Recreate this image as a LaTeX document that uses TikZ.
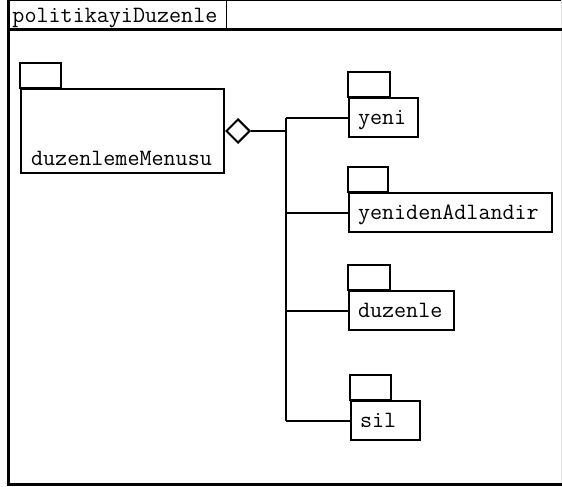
\documentclass[tikz,border=0pt]{standalone}
\usepackage{fontspec}
\usetikzlibrary{shapes.geometric}
\begin{document}
\begin{tikzpicture}[x=1pt,y=-1pt,
  lbl/.style={font=\ttfamily\fontsize{23.4}{27}\selectfont},
  pkgbody/.style={lbl, draw, line width=2pt, anchor=north west,
    inner xsep=9pt, inner ysep=0pt, minimum height=39pt,
    text height=16pt, text depth=3pt, align=left},
  pkgtab/.style={draw, line width=2pt},
  conn/.style={draw, line width=2pt},
  framethick/.style={line width=3.5pt}]
  \useasboundingbox (0,0) rectangle (562,487);

  % outer frame of the diagram
  \draw[line width=1pt] (8.5,0.5) -- (562,0.5);
  \draw[gray!25, line width=1pt] (561.5,0) -- (561.5,484);
  \draw[framethick] (8.5,0) -- (8.5,484.5) -- (562,484.5);
  \draw[framethick] (8.5,29.5) -- (562,29.5);
  \node[lbl, draw, line width=1pt, anchor=north west, inner xsep=3pt,
    inner ysep=0pt, minimum height=29pt, text width=211pt,
    text height=17pt, text depth=3pt, align=left]
    (title) at (9,0.5) {politikayiDuzenle};

  % container package
  \node[draw, line width=2pt, anchor=north west, minimum width=203pt,
    minimum height=84pt, inner sep=0pt] (menu) at (20,88) {};
  \draw[pkgtab] (menu.north west) rectangle ++(41,-25);
  \node[lbl, anchor=base] (menulabel) at (121.5,165) {duzenlemeMenusu};

  % contained packages
  \node[pkgbody, text width=51pt] (yeni) at (348,97) {yeni};
  \draw[pkgtab] (yeni.north west) rectangle ++(42,-25);
  \node[pkgbody, text width=185pt] (adlandir) at (348,192) {yenidenAdlandir};
  \draw[pkgtab] (adlandir.north west) rectangle ++(40,-25);
  \node[pkgbody, text width=87pt] (duzenle) at (348,290) {duzenle};
  \draw[pkgtab] (duzenle.north west) rectangle ++(42,-25);
  \node[pkgbody, text width=51pt] (sil) at (350,400) {sil};
  \draw[pkgtab] (sil.north west) rectangle ++(41,-25);

  % aggregation connector
  \node[diamond, draw, line width=2pt, anchor=west, minimum width=24pt,
    minimum height=24pt, inner sep=0pt] (agg) at (menu.east) {};
  \coordinate (bus) at (286,0);
  \draw[conn] (agg.east) -- (agg.east -| bus);
  \draw[conn] (yeni.west -| bus) -- (sil.west -| bus);
  \draw[conn] (yeni.west -| bus) -- (yeni.west);
  \draw[conn] (adlandir.west -| bus) -- (adlandir.west);
  \draw[conn] (duzenle.west -| bus) -- (duzenle.west);
  \draw[conn] (sil.west -| bus) -- (sil.west);
\end{tikzpicture}
\end{document}
